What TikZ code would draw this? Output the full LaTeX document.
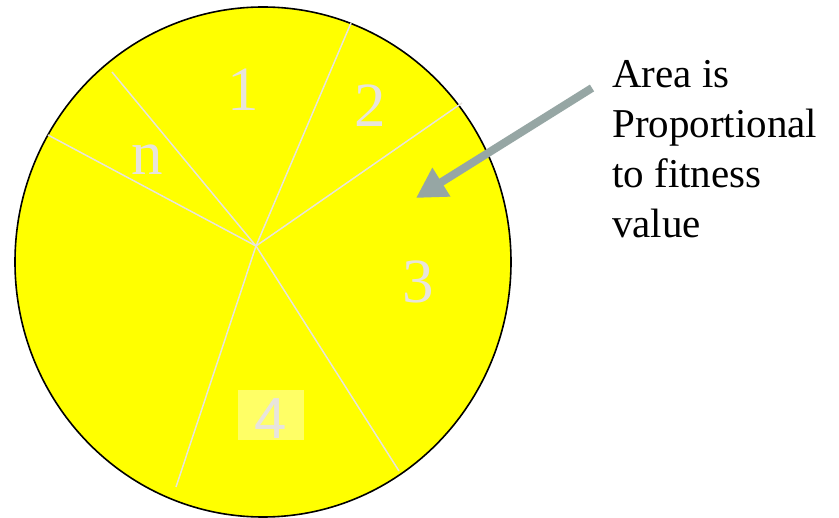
\documentclass[tikz,border=0pt]{standalone}
\usepackage{fontspec}
\setmainfont{Liberation Serif}
\newfontfamily\digsans{Liberation Sans}
\usetikzlibrary{arrows.meta}
\definecolor{wheel}{HTML}{FFFF00}
\definecolor{spokec}{HTML}{E8E4DC}
\definecolor{boxc}{HTML}{FFFF66}
\definecolor{arrowc}{HTML}{96A6A4}
\tikzset{
  spoke/.style={draw=spokec, line width=1.5pt},
  seglabel/.style={text=spokec, font=\fontsize{63}{63}\selectfont, inner sep=0pt, anchor=base},
  note/.style={font=\fontsize{41}{50}\selectfont, align=left, inner sep=0pt, anchor=base west},
  pointer/.style={draw=arrowc, line width=8pt, -{Triangle[length=30pt,width=32pt]}}
}
\begin{document}
\begin{tikzpicture}[x=1pt,y=-1pt]
\useasboundingbox (0,0) rectangle (839,518);
\fill[white] (0,0) rectangle (839,518);
\draw[fill=wheel, line width=1.6pt] (263,262) ellipse [x radius=248, y radius=255];
\coordinate (c) at (256,246);
\coordinate (s1) at (351,23);
\coordinate (s2) at (462,103);
\coordinate (s3) at (399,471);
\coordinate (s4) at (176,487);
\coordinate (s5) at (48,135);
\coordinate (s6) at (112,72);
\foreach \s in {s1,s2,s3,s4,s5,s6} \draw[spoke] (c) -- (\s);
\fill[boxc] (238,390) rectangle (304,440);
\node[seglabel] (l1) at (243,111) {1};
\node[seglabel] (l2) at (370,127) {2};
\node[seglabel] (ln) at (147,175) {n};
\node[seglabel] (l3) at (418,303) {3};
\node[seglabel, font=\digsans\fontsize{58}{58}\selectfont] (l4) at (271,439) {4};
\node[note] (txt) at (612,238) {Area is\\Proportional\\to fitness\\value};
\coordinate (a0) at (592,88);
\coordinate (a1) at (416,198);
\draw[pointer] (a0) -- (a1);
\end{tikzpicture}
\end{document}
